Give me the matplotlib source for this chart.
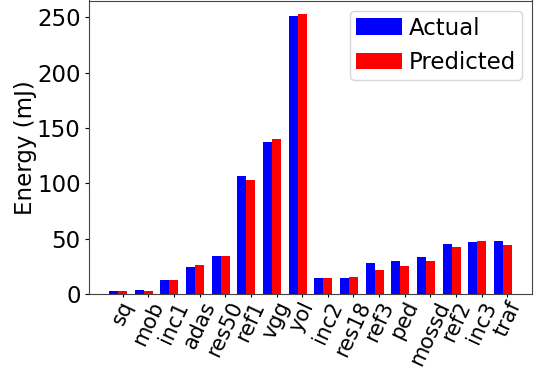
import matplotlib
matplotlib.use("Agg")
import matplotlib.pyplot as plt
import numpy as np

categories = ["sq", "mob", "inc1", "adas", "res50", "ref1", "vgg", "yol",
              "inc2", "res18", "ref3", "ped", "mossd", "ref2", "inc3", "traf"]
actual = [2.7, 3.5, 12.6, 24.2, 34.1, 106.8, 137.3, 250.6,
          14.4, 14.4, 27.8, 29.6, 33.2, 44.9, 46.7, 47.6]
predicted = [2.7, 2.5, 12.6, 26.0, 34.1, 103.2, 140.0, 252.4,
             14.4, 15.3, 21.5, 25.1, 29.6, 42.2, 47.6, 44.0]

fs = 16.5
fig = plt.figure(figsize=(5.37, 3.68), dpi=100)
ax = fig.add_axes([89 / 537, (368 - 294) / 368, (532 - 89) / 537, 293.5 / 368])

x = np.arange(len(categories))
w = 0.35
ax.bar(x - w, actual, w, color="blue", label="Actual")
ax.bar(x, predicted, w, color="red", label="Predicted")

ax.set_xticks(x)
ax.set_xticklabels(categories, rotation=65, fontsize=15)
ax.tick_params(axis="x", length=2.5, pad=0.5)
ax.tick_params(axis="y", labelsize=fs, length=3, pad=3)
for s in ax.spines.values():
    s.set_color("#444444")
ax.set_ylabel("Energy (mJ)", fontsize=fs, labelpad=0)
ax.legend(loc="upper right", fontsize=fs, handletextpad=0.3,
          borderpad=0.25, labelspacing=0.5, borderaxespad=0.45)

fig.savefig("out.png", dpi=100)
